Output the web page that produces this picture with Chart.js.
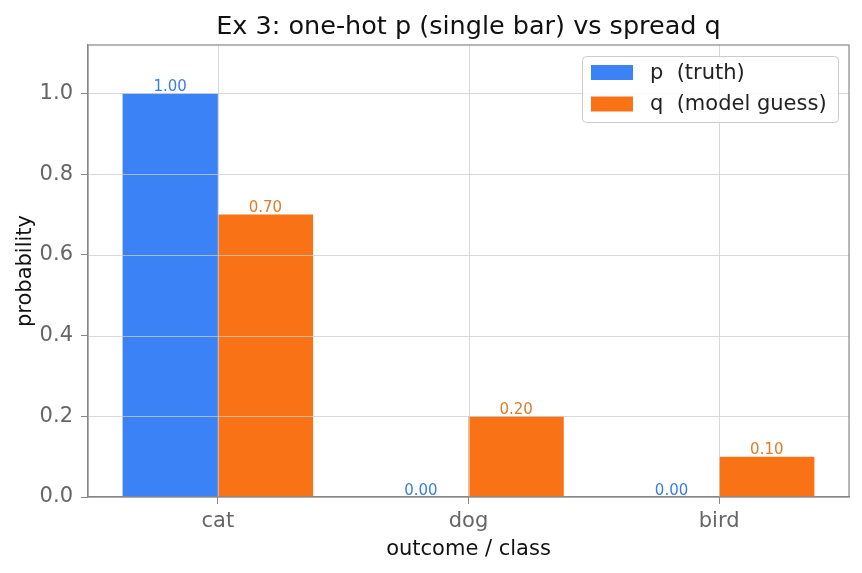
<!DOCTYPE html>
<html><head><meta charset="utf-8">
<script src="https://cdn.jsdelivr.net/npm/chart.js@4.4.1/dist/chart.umd.min.js"></script>
<style>html,body{margin:0;padding:0;background:#fff}#wrap{width:862px;height:573px}</style>
</head><body><div id="wrap"><canvas id="c" width="862" height="573"></canvas></div>
<script>
const categories = ['cat', 'dog', 'bird'];
const pValues = [1.00, 0.00, 0.00];
const qValues = [0.70, 0.20, 0.10];
const seriesNames = ['p  (truth)', 'q  (model guess)'];
const yTicks = [0, 0.2, 0.4, 0.6, 0.8, 1.0];
const chartTitle = 'Ex 3: one-hot p (single bar) vs spread q';

const FONT = "'DejaVu Sans', sans-serif";
const BLUE = '#3b82f6', ORANGE = '#f97316';
const LABEL_COLORS = ['#3b7de0', '#e07a2a'];
const GRID = 'rgba(204,204,204,0.75)';
const SPINE = '#888888';

// gridlines drawn over the bars (as in the reference), positions from the scales' ticks
const overGrid = {
  id: 'overGrid',
  afterDatasetsDraw(chart) {
    const ctx = chart.ctx;
    const a = chart.chartArea;
    const xs = chart.scales.x, ys = chart.scales.y;
    ctx.save();
    ctx.beginPath();
    ctx.rect(a.left, a.top, a.right - a.left, a.bottom - a.top);
    ctx.clip();
    ctx.strokeStyle = GRID;
    ctx.lineWidth = 1;
    xs.ticks.forEach(t => {
      const px = Math.round(xs.getPixelForValue(t.value)) + 0.5;
      ctx.beginPath(); ctx.moveTo(px, a.top); ctx.lineTo(px, a.bottom); ctx.stroke();
    });
    ys.ticks.forEach(t => {
      const py = Math.round(ys.getPixelForValue(t.value)) + 0.5;
      ctx.beginPath(); ctx.moveTo(a.left, py); ctx.lineTo(a.right, py); ctx.stroke();
    });
    ctx.restore();
  }
};

const barLabels = {
  id: 'barLabels',
  afterDatasetsDraw(chart) {
    const ctx = chart.ctx;
    ctx.save();
    ctx.font = '15px ' + FONT;
    ctx.textAlign = 'center';
    ctx.textBaseline = 'alphabetic';
    chart.data.datasets.forEach((ds, di) => {
      const meta = chart.getDatasetMeta(di);
      ctx.fillStyle = LABEL_COLORS[di];
      meta.data.forEach((el, i) => {
        ctx.fillText(ds.data[i].y.toFixed(2), el.x, el.y - 2.5);
      });
    });
    ctx.restore();
  }
};

const frameAndLegend = {
  id: 'frameAndLegend',
  afterDraw(chart) {
    const ctx = chart.ctx;
    const a = chart.chartArea;
    ctx.save();
    // title centred over the plot area
    ctx.font = '25.5px ' + FONT;
    ctx.fillStyle = '#111';
    ctx.textAlign = 'center';
    ctx.textBaseline = 'alphabetic';
    ctx.fillText(chartTitle, (a.left + a.right) / 2, a.top - 11);
    // spines
    ctx.strokeStyle = SPINE;
    ctx.lineWidth = 1.2;
    ctx.strokeRect(a.left, a.top, a.right - a.left, a.bottom - a.top);
    // legend
    const w = 256, h = 66;
    const x = a.right - 267, y = a.top + 11;
    ctx.beginPath();
    if (ctx.roundRect) ctx.roundRect(x + 0.5, y + 0.5, w, h, 4); else ctx.rect(x + 0.5, y + 0.5, w, h);
    ctx.fillStyle = 'rgba(255,255,255,0.85)';
    ctx.fill();
    ctx.strokeStyle = '#cccccc';
    ctx.lineWidth = 1;
    ctx.stroke();
    const cols = [BLUE, ORANGE];
    const rows = [16.5, 48];
    ctx.font = '21px ' + FONT;
    ctx.textAlign = 'left';
    ctx.textBaseline = 'middle';
    seriesNames.forEach((n, i) => {
      ctx.fillStyle = cols[i];
      ctx.fillRect(x + 9, y + rows[i] - 7.5, 42, 15);
      ctx.fillStyle = '#222';
      ctx.fillText(n, x + 68, y + rows[i] + 1);
    });
    ctx.restore();
  }
};

new Chart(document.getElementById('c'), {
  type: 'bar',
  data: {
    datasets: [
      { label: seriesNames[0], data: pValues.map((v, i) => ({ x: i, y: v })), backgroundColor: BLUE, borderWidth: 0 },
      { label: seriesNames[1], data: qValues.map((v, i) => ({ x: i, y: v })), backgroundColor: ORANGE, borderWidth: 0 }
    ]
  },
  options: {
    responsive: false,
    animation: false,
    devicePixelRatio: 1,
    categoryPercentage: 0.76,
    barPercentage: 1.0,
    layout: { padding: { top: 45, left: 0, right: 13, bottom: 0 } },
    plugins: {
      legend: { display: false },
      tooltip: { enabled: false },
      title: { display: false }
    },
    scales: {
      x: {
        type: 'linear',
        min: -0.518, max: 2.518,
        offset: false,
        afterBuildTicks: (s) => { s.ticks = categories.map((c, i) => ({ value: i })); },
        afterFit: (s) => { s.height = 76; },
        ticks: {
          callback: (v) => categories[v],
          color: '#666',
          font: { family: FONT, size: 21 },
          padding: 5,
          maxRotation: 0
        },
        grid: { offset: false, drawOnChartArea: false, color: GRID, lineWidth: 1, tickColor: SPINE, tickLength: 7 },
        border: { display: true, color: SPINE, width: 1.2 },
        title: {
          display: true, text: 'outcome / class', color: '#111',
          font: { family: FONT, size: 21 },
          padding: { top: 0, bottom: 11 }
        }
      },
      y: {
        type: 'linear',
        min: 0, max: 1.12,
        afterBuildTicks: (s) => { s.ticks = yTicks.map(v => ({ value: v })); },
        afterFit: (s) => { s.width = 88; },
        ticks: {
          callback: (v) => Number(v).toFixed(1),
          color: '#666',
          font: { family: FONT, size: 21 },
          padding: 8
        },
        grid: { drawOnChartArea: false, color: GRID, lineWidth: 1, tickColor: SPINE, tickLength: 7 },
        border: { display: true, color: SPINE, width: 1.2 },
        title: {
          display: true, text: 'probability', color: '#111',
          font: { family: FONT, size: 21 },
          padding: { top: 13, bottom: 0 }
        }
      }
    }
  },
  plugins: [overGrid, barLabels, frameAndLegend]
});
</script>
</body></html>
